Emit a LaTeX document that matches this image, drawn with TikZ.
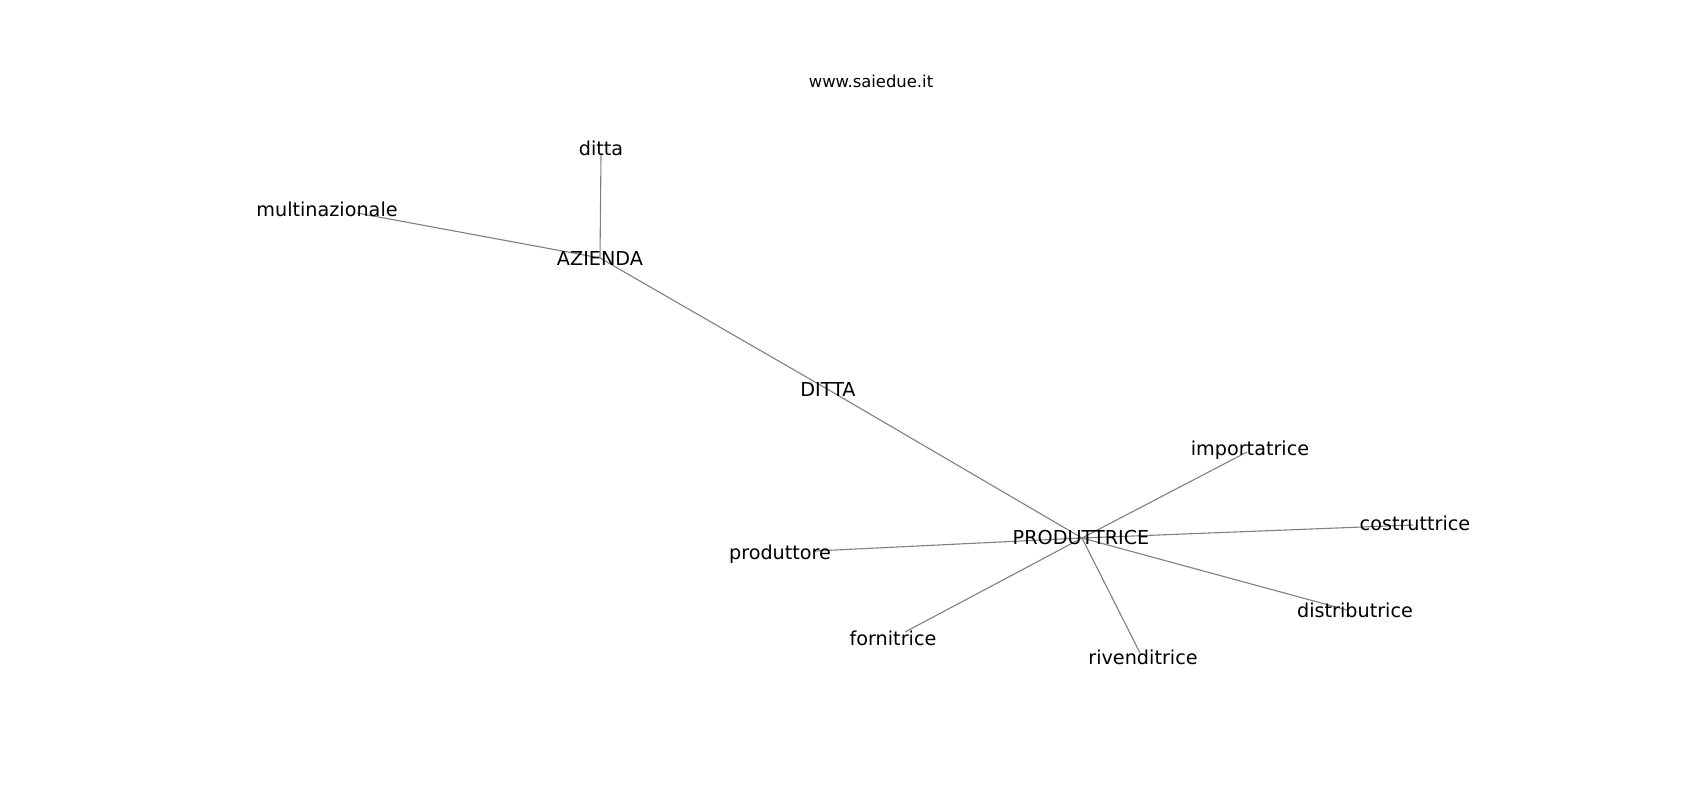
\documentclass[tikz,border=0pt]{standalone}
\usepackage{fontspec}
\setmainfont{DejaVu Sans}
\begin{document}
\begin{tikzpicture}[x=1pt,y=-1pt,
  edge/.style={draw=gray, line width=1.1pt},
  lbl/.style={anchor=base, inner sep=0pt, font=\fontsize{19.2}{23}\selectfont, text=black},
  ttl/.style={anchor=base, inner sep=0pt, font=\fontsize{16.4}{19}\selectfont, text=black}]
\useasboundingbox (0,0) rectangle (1700,800);
\fill[white] (0,0) rectangle (1700,800);
% node positions
\coordinate (pditta) at (601,155);
\coordinate (pmulti) at (357,213);
\coordinate (paz) at (600,258);
\coordinate (pDITTA) at (828,389.5);
\coordinate (pprod) at (1082,538);
\coordinate (pproduttore) at (815,551);
\coordinate (pforn) at (905,632);
\coordinate (pimp) at (1247,452);
\coordinate (pcost) at (1413,525);
\coordinate (priv) at (1140,653);
\coordinate (pdist) at (1347,610);
% edges
\draw[edge] (paz) -- (pditta);
\draw[edge] (paz) -- (pmulti);
\draw[edge] (paz) -- (pDITTA);
\draw[edge] (pDITTA) -- (pprod);
\draw[edge] (pprod) -- (pproduttore);
\draw[edge] (pprod) -- (pforn);
\draw[edge] (pprod) -- (pimp);
\draw[edge] (pprod) -- (pcost);
\draw[edge] (pprod) -- (priv);
\draw[edge] (pprod) -- (pdist);
% labels
\node[ttl] (title) at (871,88) {www.saiedue.it};
\node[lbl] (ditta) at (601,155) {ditta};
\node[lbl] (multi) at (327,216) {multinazionale};
\node[lbl] (az) at (600,265) {AZIENDA};
\node[lbl] (DITTA) at (828,396.5) {DITTA};
\node[lbl] (prod) at (1081,544) {PRODUTTRICE};
\node[lbl] (produttore) at (780,559) {produttore};
\node[lbl] (forn) at (893,645) {fornitrice};
\node[lbl] (imp) at (1250,455) {importatrice};
\node[lbl] (cost) at (1415,530) {costruttrice};
\node[lbl] (riv) at (1143,664) {rivenditrice};
\node[lbl] (dist) at (1355,617) {distributrice};
\end{tikzpicture}
\end{document}
